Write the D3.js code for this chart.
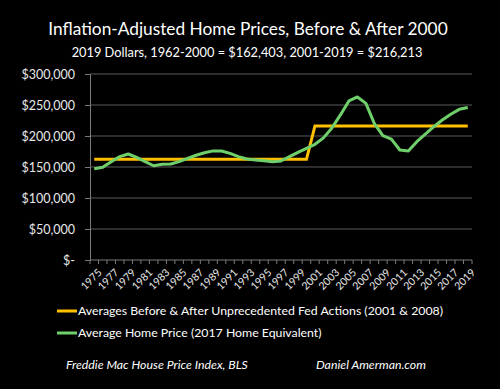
<!DOCTYPE html>
<html>
<head>
<meta charset="utf-8">
<script src="https://cdn.jsdelivr.net/npm/d3@7"></script>
<style>
  body { margin: 0; background: #000; }
  svg { display: block; }
</style>
</head>
<body>
<script>
var width = 500, height = 389
var margin = {top: 74, right: 28, bottom: 129, left: 90}

// data
var years = d3.range(1975, 2020)
var homePrice = [147300, 149500, 158600, 166700, 171000, 165600, 158600, 152000, 154300, 154800,
                 158600, 164000, 169000, 173000, 176000, 175800, 172000, 166700, 163000, 161300,
                 160000, 158600, 159700, 166700, 173700, 180000, 186600, 197000, 213000, 234000,
                 256500, 263000, 252700, 220000, 200500, 195000, 177400, 175800, 190800, 203000,
                 215000, 225800, 235000, 243000, 246000]
var avgBefore = 162403, avgAfter = 216213
var averages = years.map(function(y) { return y <= 2000 ? avgBefore : avgAfter })
var yTicks = [0, 50000, 100000, 150000, 200000, 250000, 300000]
var legendLabels = ["Averages Before & After Unprecedented Fed Actions (2001 & 2008)",
                    "Average Home Price (2017 Home Equivalent)"]
var colors = ["#ffc000", "#6fcf6a"]

var svg = d3.select("body").append("svg")
    .attr("width", width)
    .attr("height", height)
    .style("background", "#000")

var x = d3.scaleBand()
    .domain(years)
    .range([margin.left, width - margin.right])

var y = d3.scaleLinear()
    .domain([0, 300000])
    .range([height - margin.bottom, margin.top])

var font = "Lato, 'Open Sans', sans-serif"

// title
svg.append("text")
    .attr("x", 248).attr("y", 35)
    .attr("text-anchor", "middle")
    .style("font-family", font).style("font-size", "17.3px")
    .attr("fill", "#fff")
    .text("Inflation-Adjusted Home Prices, Before & After 2000")

svg.append("text")
    .attr("x", 247).attr("y", 57)
    .attr("text-anchor", "middle")
    .style("font-family", font).style("font-size", "12.8px")
    .attr("fill", "#fff")
    .text("2019 Dollars, 1962-2000 = $162,403, 2001-2019 = $216,213")

// gridlines
svg.append("g")
  .selectAll("line")
  .data(yTicks.slice(1))
  .enter().append("line")
    .attr("x1", margin.left).attr("x2", width - margin.right)
    .attr("y1", function(d) { return y(d) }).attr("y2", function(d) { return y(d) })
    .attr("stroke", "#5a5a5a").attr("stroke-width", 1)

// y axis
var yAxis = svg.append("g")
    .attr("transform", "translate(" + margin.left + ",0)")
    .call(d3.axisLeft(y).tickValues(yTicks).tickSize(5).tickPadding(10)
      .tickFormat(function(d) { return d === 0 ? "$-" : d3.format("$,")(d) }))
yAxis.select(".domain").attr("stroke", "#7a7a7a")
yAxis.selectAll(".tick line").attr("stroke", "#7a7a7a")
yAxis.selectAll("text").attr("fill", "#e8e8e8")
    .style("font-family", font).style("font-size", "12.5px")

// x axis with ticks between categories
var xg = svg.append("g")
    .attr("transform", "translate(0," + y(0) + ")")
xg.append("line")
    .attr("x1", margin.left).attr("x2", width - margin.right)
    .attr("stroke", "#7a7a7a")
xg.selectAll(".tk")
  .data(years.concat([2020]))
  .enter().append("line")
    .attr("class", "tk")
    .attr("x1", function(d) { return d === 2020 ? x.range()[1] : x(d) })
    .attr("x2", function(d) { return d === 2020 ? x.range()[1] : x(d) })
    .attr("y1", 0).attr("y2", 4)
    .attr("stroke", "#7a7a7a")
xg.selectAll(".lbl")
  .data(years.filter(function(d) { return (d - 1975) % 2 === 0 }))
  .enter().append("text")
    .attr("class", "lbl")
    .attr("transform", function(d) {
      return "translate(" + (x(d) + x.bandwidth() / 2 + 3) + ",8) rotate(-45)" })
    .attr("text-anchor", "end")
    .attr("dy", "0.7em")
    .style("font-family", font).style("font-size", "10.5px")
    .attr("fill", "#e8e8e8")
    .text(function(d) { return d })

// lines
var line = d3.line()
    .x(function(d, i) { return x(years[i]) + x.bandwidth() / 2 })
    .y(function(d) { return y(d) })

svg.append("path")
    .datum(averages)
    .attr("d", line)
    .attr("fill", "none")
    .attr("stroke", colors[0])
    .attr("stroke-width", 3)

svg.append("path")
    .datum(homePrice)
    .attr("d", line)
    .attr("fill", "none")
    .attr("stroke", colors[1])
    .attr("stroke-width", 3)
    .attr("stroke-linejoin", "round")

// legend
var lg = svg.append("g")
  .selectAll("g")
  .data(legendLabels)
  .enter().append("g")
    .attr("transform", function(d, i) { return "translate(57," + (311 + i * 22) + ")" })
lg.append("line")
    .attr("x1", 0).attr("x2", 20)
    .attr("stroke", function(d, i) { return colors[i] })
    .attr("stroke-width", 3)
lg.append("text")
    .attr("x", 21).attr("dy", "0.35em")
    .style("font-family", font).style("font-size", "12.3px")
    .attr("fill", "#fff")
    .text(function(d) { return d })

// footer
svg.append("text")
    .attr("x", 66).attr("y", 369)
    .style("font-family", font).style("font-size", "12.3px").style("font-style", "italic")
    .attr("fill", "#fff")
    .text("Freddie Mac House Price Index, BLS")
svg.append("text")
    .attr("x", 316).attr("y", 369)
    .style("font-family", font).style("font-size", "12.3px").style("font-style", "italic")
    .attr("fill", "#fff")
    .text("Daniel Amerman.com")
</script>
</body>
</html>
